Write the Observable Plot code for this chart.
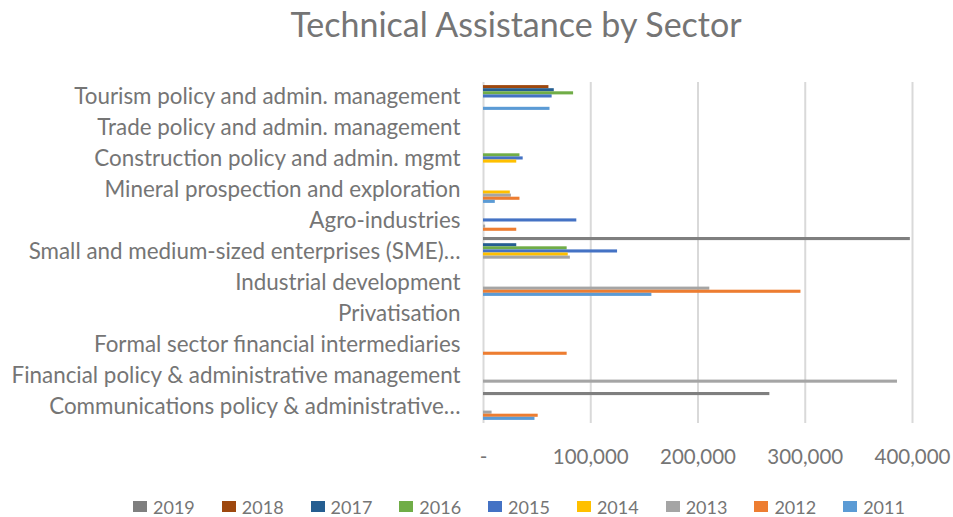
<!DOCTYPE html>
<html>
<head>
<meta charset="utf-8">
<script src="https://cdn.jsdelivr.net/npm/d3@7"></script>
<script src="https://cdn.jsdelivr.net/npm/@observablehq/plot@0.6"></script>
<style>
  html, body { margin: 0; padding: 0; background: #fff; }
  #wrap { width: 953px; height: 517px; position: relative; font-family: Lato, sans-serif; color: #757575; }
  #title { height: 60px; line-height: 48px; font-size: 34px; text-align: center; padding-left: 79px; box-sizing: border-box; width: 953px; }
  #chart svg { display: block; }
  #chart [aria-label^="y-axis"] text { font-size: 22.4px; }
  #chart [aria-label^="x-axis"] text { font-size: 20.5px; }
  #legend { height: 47px; box-sizing: border-box; padding-top: 26px; display: flex; justify-content: center; padding-left: 85px; }
  .item { display: flex; align-items: center; margin: 0 13.5px; font-size: 18px; line-height: 22px; }
  .sw { width: 14px; height: 11px; margin-right: 6px; }
</style>
</head>
<body>
<div id="wrap">
  <div id="title">Technical Assistance by Sector</div>
  <div id="chart"></div>
  <div id="legend"></div>
</div>
<script>
const categories = [
  "Tourism policy and admin. management",
  "Trade policy and admin. management",
  "Construction policy and admin. mgmt",
  "Mineral prospection and exploration",
  "Agro-industries",
  "Small and medium-sized enterprises (SME)…",
  "Industrial development",
  "Privatisation",
  "Formal sector financial intermediaries",
  "Financial policy & administrative management",
  "Communications policy & administrative…"
];
const years = ["2019", "2018", "2017", "2016", "2015", "2014", "2013", "2012", "2011"];
const colors = ["#7f7f7f", "#9e480e", "#255e91", "#70ad47", "#4472c4", "#ffc000", "#a5a5a5", "#ed7d31", "#5b9bd5"];

// values per year, aligned with categories (null = no bar)
const v2019 = [null, null, null, null, null, 398000, null, null, null, null, 267000];
const v2018 = [61000, null, null, null, null, null, null, null, null, null, null];
const v2017 = [66000, null, null, null, null, 31000, null, null, null, null, null];
const v2016 = [84000, null, 34000, null, null, 78000, null, null, null, null, null];
const v2015 = [64000, null, 37000, null, 87000, 125000, null, null, null, null, null];
const v2014 = [null, null, 31000, 25000, null, 79000, null, null, null, null, null];
const v2013 = [null, null, null, 26000, 2000, 81000, 211000, null, null, 386000, 8000];
const v2012 = [null, null, null, 34000, 31000, null, 296000, null, 78000, null, 51000];
const v2011 = [62000, null, null, 11000, null, null, 157000, null, null, null, 48000];
const seriesValues = [v2019, v2018, v2017, v2016, v2015, v2014, v2013, v2012, v2011];

const xTicks = [0, 100000, 200000, 300000, 400000];

const data = years.flatMap((yr, j) =>
  categories.map((c, i) => ({category: c, year: yr, value: seriesValues[j][i]}))
).filter(d => d.value != null);

const yDomain = categories.flatMap(c => [...years.map(y => c + "|" + y), c + "|gap"]);
const labelKeys = categories.map(c => c + "|2015");

const chart = Plot.plot({
  width: 953,
  height: 410,
  marginLeft: 483,
  marginRight: 41,
  marginTop: 22,
  marginBottom: 47,
  style: {fontFamily: "Lato, sans-serif", fontSize: "20.5px", color: "#757575", background: "white", overflow: "visible"},
  x: {domain: [0, 400000], ticks: xTicks, tickFormat: d => d === 0 ? "-" : d3.format(",")(d), tickSize: 0, tickPadding: 26, label: null},
  y: {domain: yDomain, padding: 0, round: false, ticks: labelKeys, tickFormat: d => d.split("|")[0], tickSize: 0, tickPadding: 23, label: null},
  color: {domain: years, range: colors},
  marks: [
    Plot.ruleX(xTicks, {stroke: "#d9d9d9", strokeWidth: 2}),
    Plot.barX(data, {x: "value", y: d => d.category + "|" + d.year, fill: "year"})
  ]
});
document.getElementById("chart").appendChild(chart);

const legend = document.getElementById("legend");
years.forEach((yr, j) => {
  const it = document.createElement("div");
  it.className = "item";
  const sw = document.createElement("span");
  sw.className = "sw";
  sw.style.background = colors[j];
  it.appendChild(sw);
  it.appendChild(document.createTextNode(yr));
  legend.appendChild(it);
});
</script>
</body>
</html>
